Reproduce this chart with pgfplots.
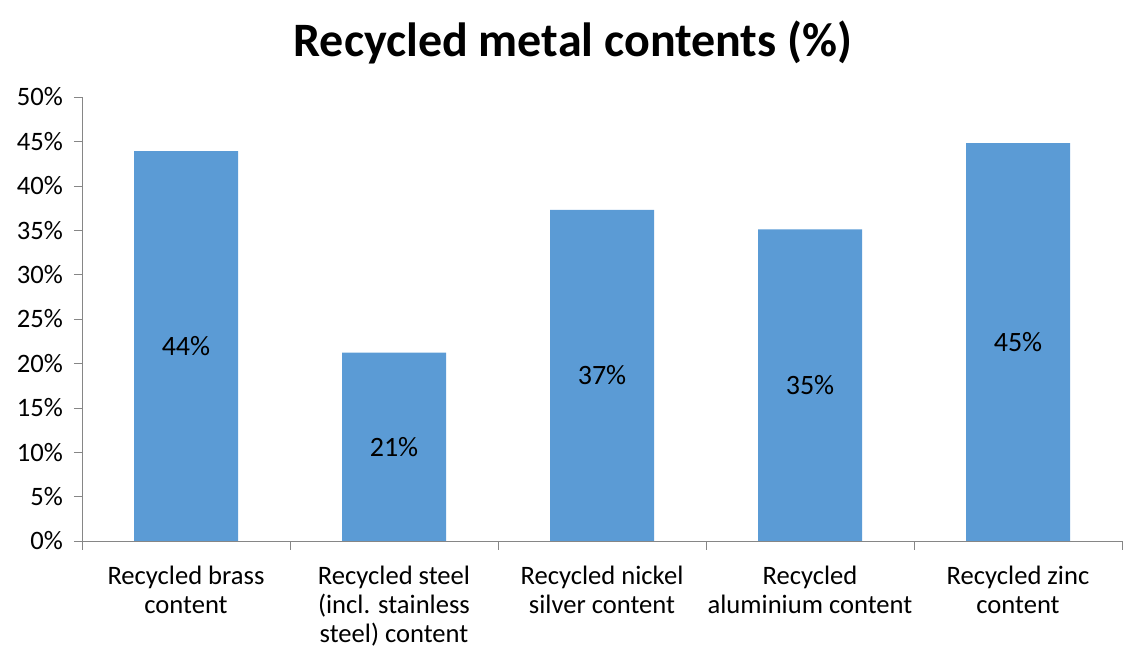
\documentclass[border=0pt]{standalone}
\usepackage{pgfplots}
\pgfplotsset{compat=1.18}
\usepackage{fontspec}
\setmainfont{Carlito}
\usetikzlibrary{calc}
\definecolor{barblue}{HTML}{5B9BD5}
\definecolor{axgray}{HTML}{868686}
\begin{document}
\begin{tikzpicture}
\begin{axis}[
  name=ax,
  scale only axis,
  width=520pt, height=222pt,
  ymin=0, ymax=50,
  xmin=-0.5, xmax=4.5,
  ytick={0,5,...,50},
  yticklabel={\pgfmathprintnumber{\tick}\%},
  /pgf/number format/assume math mode=true,
  xtick={0,1,2,3,4},
  xticklabels={{Recycled brass\\content},{Recycled steel\\(incl. stainless\\steel) content},{Recycled nickel\\silver content},{Recycled\\aluminium content},{Recycled zinc\\content}},
  minor xtick={-0.5,0.5,1.5,2.5,3.5,4.5},
  x tick label style={align=center, font=\fontsize{13.3}{14.4}\selectfont, yshift=-5pt},
  y tick label style={font=\fontsize{13.3}{15}\selectfont, xshift=-2pt},
  major x tick style={draw=none},
  minor x tick style={draw=axgray},
  y tick style={draw=axgray},
  tick align=outside,
  major tick length=4pt,
  minor tick length=4.5pt,
  axis x line*=bottom,
  axis y line*=left,
  axis line style={draw=axgray, -},
  ybar,
  bar width=0.5,
  visualization depends on={rawy \as \rawy},
  nodes near coords={\pgfmathprintnumber[fixed,precision=0]{\pgfplotspointmeta}\%},
  every node near coord/.append style={anchor=center, font=\fontsize{14}{16}\selectfont, shift={(axis direction cs:0,-\rawy/2)}},
]
\addplot[fill=barblue, draw=none] coordinates {(0,43.9) (1,21.2) (2,37.3) (3,35.1) (4,44.8)};
\end{axis}
\node[anchor=base, font=\fontsize{24}{28}\selectfont\bfseries] at ($(ax.north west)+(245.5pt,20pt)$) {Recycled metal contents (\%)};
\pgfresetboundingbox
\path ($(ax.south west)+(-41pt,-61pt)$) rectangle ($(ax.north east)+(3pt,48.5pt)$);
\end{tikzpicture}
\end{document}
